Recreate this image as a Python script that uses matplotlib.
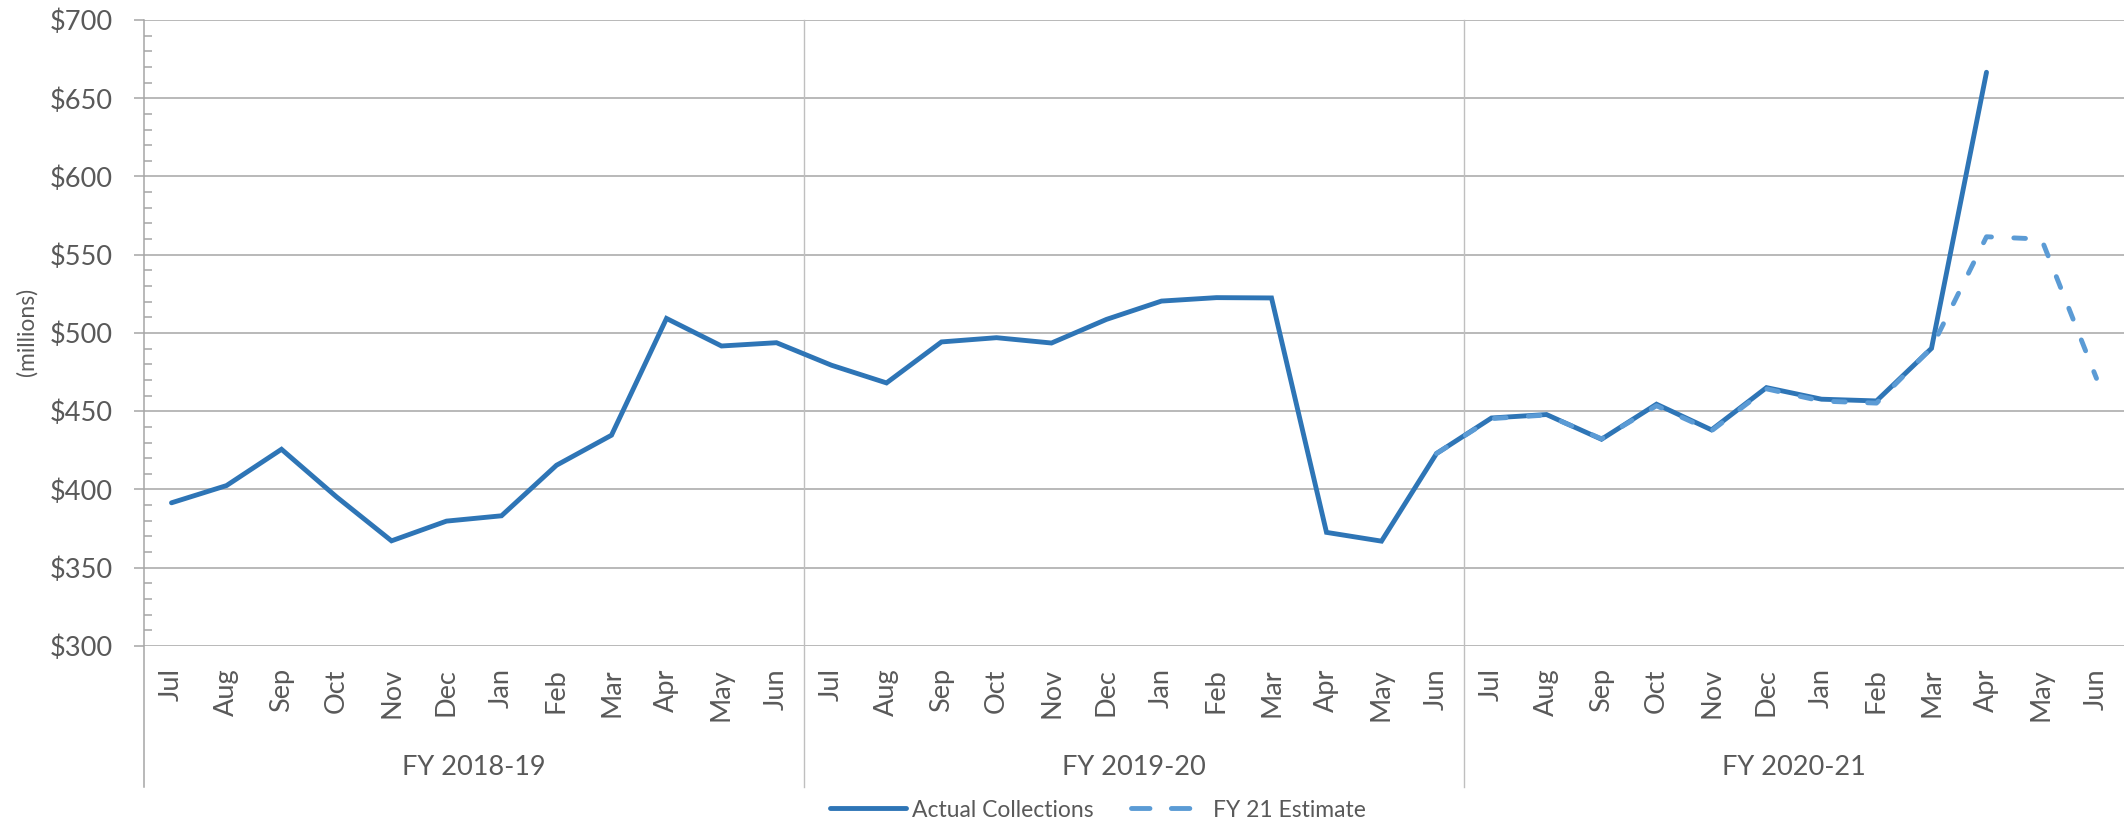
import matplotlib
matplotlib.use("Agg")
import matplotlib.pyplot as plt
import matplotlib.transforms as mtransforms
from matplotlib.lines import Line2D
from matplotlib.ticker import MultipleLocator, FuncFormatter
import numpy as np

# ---------------- data ----------------
months = ['Jul', 'Aug', 'Sep', 'Oct', 'Nov', 'Dec', 'Jan', 'Feb', 'Mar', 'Apr', 'May', 'Jun']
fiscal_years = ['FY 2018-19', 'FY 2019-20', 'FY 2020-21']

# Actual collections ($ millions), Jul 2018 .. Apr 2021
actual = [391.5, 402.5, 425.7, 395.3, 367.2, 379.8, 383.2, 415.5, 434.7, 509.3, 491.7, 493.8,
          479.4, 468.1, 494.3, 497.0, 493.6, 508.7, 520.4, 522.6, 522.4, 372.6, 367.0, 423.0,
          445.7, 447.9, 432.1, 454.5, 438.1, 465.1, 457.7, 456.6, 490.2, 666.6]

# FY 21 estimate ($ millions), Jun 2020 .. Jun 2021
estimate_start = 23
estimate = [423.0, 445.3, 447.6, 432.4, 453.5, 437.5, 464.3, 456.5, 455.2, 490.5,
            561.5, 560.0, 471.0]

y_min, y_max = 300, 700

# ---------------- style ----------------
plt.rcParams['font.family'] = ['Lato', 'DejaVu Sans']
TEXT = '#595959'
GRID = '#A6A6A6'
SEP = '#BFBFBF'
C_ACT = '#2E75B6'
C_EST = '#5B9BD5'

W, H, DPI = 2124, 822, 100
fig = plt.figure(figsize=(W / DPI, H / DPI), dpi=DPI)
fig.patch.set_facecolor('white')

ax_left, ax_right = 144 / W, 1.0
ax_bottom, ax_top = 1 - 646 / H, 1 - 20 / H
ax = fig.add_axes([ax_left, ax_bottom, ax_right - ax_left, ax_top - ax_bottom])

labels = [m for _ in fiscal_years for m in months]
n = len(labels)
x_all = np.arange(n)

ax.plot(x_all[:len(actual)], actual, color=C_ACT, lw=3.5, solid_capstyle='round',
        solid_joinstyle='miter', zorder=3)
x_est = np.arange(estimate_start, estimate_start + len(estimate))
ax.plot(x_est, estimate, color=C_EST, lw=3.5, dashes=(2.4, 4.6), dash_capstyle='round',
        zorder=4)

ax.set_xlim(-0.5, n - 0.5)
ax.set_ylim(y_min, y_max)

for s in ['top', 'right', 'bottom', 'left']:
    ax.spines[s].set_visible(False)

# y axis
ax.yaxis.set_major_locator(MultipleLocator(50))
ax.yaxis.set_minor_locator(MultipleLocator(10))
ax.yaxis.set_major_formatter(FuncFormatter(lambda v, p: f'${v:,.0f}'))
ax.tick_params(axis='y', which='major', direction='out', length=7.2, width=1.1,
               color=GRID, labelcolor=TEXT, labelsize=19.5, pad=15)
ax.tick_params(axis='y', which='minor', direction='in', length=5.5, width=1.1, color=GRID)
ax.grid(axis='y', which='major', color=GRID, lw=1.1, zorder=0)
ax.set_axisbelow(True)

# x axis: months
ax.set_xticks(x_all)
ax.set_xticklabels(labels, rotation=90)
ax.tick_params(axis='x', which='both', length=0, labelcolor=TEXT, labelsize=19.5, pad=16)

# extended left axis line and group separators
y_ext = (646 - 787) / (646 - 20)
ax.add_line(Line2D([0, 0], [y_ext, 1], transform=ax.transAxes, color=GRID, lw=1.1,
                   clip_on=False, zorder=2))
trans = mtransforms.blended_transform_factory(ax.transData, ax.transAxes)
for g in range(1, len(fiscal_years)):
    xb = g * len(months) - 0.5
    ax.add_line(Line2D([xb, xb], [y_ext, 1], transform=trans, color=SEP, lw=1.0,
                       clip_on=False, zorder=1))

# fiscal-year group labels
y_fy = (646 - 767) / (646 - 20)
for g, fy in enumerate(fiscal_years):
    xc = g * len(months) + (len(months) - 1) / 2
    ax.text(xc, y_fy, fy, transform=trans, ha='center', va='center',
            fontsize=19.5, color=TEXT)

# y label
fig.text(27 / W, 1 - 332 / H, '(millions)', rotation=90, ha='center', va='center',
         fontsize=16.5, color=TEXT)

# legend
h_act = Line2D([], [], color=C_ACT, lw=3.5, solid_capstyle='round')
h_est = Line2D([], [], color=C_EST, lw=3.5, dashes=(3.8, 4.4), dash_capstyle='round')
leg = fig.legend([h_act, h_est], ['Actual Collections', 'FY 21 Estimate'],
                 loc='center', bbox_to_anchor=(1098 / W, 1 - 810 / H), ncol=2,
                 frameon=False, fontsize=16.5, handlelength=3.3, handletextpad=0.3,
                 columnspacing=1.6, labelcolor=TEXT, borderpad=0, borderaxespad=0)

fig.savefig('out.png', dpi=DPI, facecolor='white')
